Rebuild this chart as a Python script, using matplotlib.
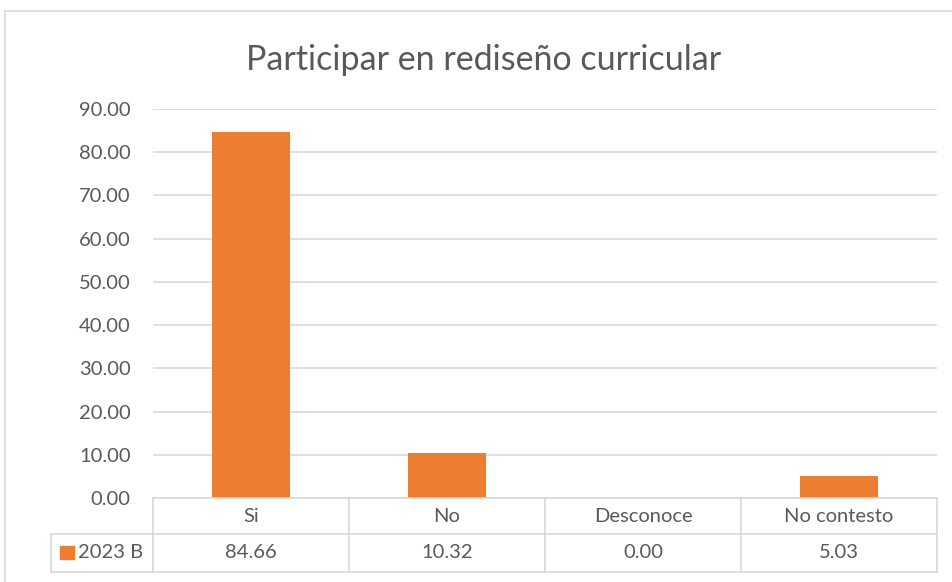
import matplotlib.pyplot as plt
import matplotlib.transforms as mtransforms
from matplotlib.lines import Line2D
from matplotlib.patches import Rectangle

categories = ["Si", "No", "Desconoce", "No contesto"]
values = [84.66, 10.32, 0.00, 5.03]
series_name = "2023 B"
y_ticks = [0, 10, 20, 30, 40, 50, 60, 70, 80, 90]

bar_color = "#ED7D31"
text_color = "#595959"
grid_color = "#D9D9D9"

plt.rcParams['font.family'] = ['Lato', 'DejaVu Sans']

W, H = 952, 582
fig = plt.figure(figsize=(W / 100, H / 100), dpi=100)


def fx(px):
    return px / W


def fy(py):
    # py measured from top of image
    return 1 - py / H


# Outer chart border (extends past the right and bottom edges)
fig.add_artist(Rectangle((fx(4.5), fy(700)), fx(1000), fy(10.5) - fy(700),
                         transform=fig.transFigure, fill=False,
                         edgecolor=grid_color, linewidth=1.2))

ax = fig.add_axes([fx(153), fy(498), fx(937) - fx(153), fy(109) - fy(498)])
ax.bar(range(len(categories)), values, width=0.4, color=bar_color, zorder=3)
ax.set_xlim(-0.5, len(categories) - 0.5)
ax.set_ylim(0, 90)
ax.set_yticks(y_ticks)
ax.set_yticklabels([f"{t:.2f}" for t in y_ticks])
ax.tick_params(axis='y', length=0, pad=16, labelsize=14.5, labelcolor=text_color)
ax.set_xticks([])
ax.yaxis.grid(True, color=grid_color, linewidth=1.2, zorder=0)
for s in ax.spines.values():
    s.set_visible(False)

fig.text(fx(484), fy(60), "Participar en rediseño curricular", ha='center',
         va='center', fontsize=24.5, color=text_color)

# Data table below the axis
tr = mtransforms.blended_transform_factory(ax.transData, fig.transFigure)
n = len(categories)
left_x = -0.5
right_x = n - 0.5
legend_left = ax.transData.inverted().transform((51, 0))[0]
y_top, y_mid, y_bot = fy(498), fy(534), fy(572)


def hline(x0, x1, y):
    fig.add_artist(Line2D([x0, x1], [y, y], transform=tr, color=grid_color,
                          linewidth=1.2, clip_on=False))


def vline(x, y0, y1):
    fig.add_artist(Line2D([x, x], [y0, y1], transform=tr, color=grid_color,
                          linewidth=1.2, clip_on=False))


hline(left_x, right_x, y_top)
hline(legend_left, right_x, y_mid)
hline(legend_left, right_x, y_bot)
vline(legend_left, y_mid, y_bot)
for i in range(n + 1):
    vline(i - 0.5, y_top, y_bot)

for i, (cat, val) in enumerate(zip(categories, values)):
    fig.text(i, (y_top + y_mid) / 2, cat, transform=tr, ha='center',
             va='center', fontsize=14.5, color=text_color)
    fig.text(i, (y_mid + y_bot) / 2, f"{val:.2f}", transform=tr, ha='center',
             va='center', fontsize=14.5, color=text_color)

# Legend key in the table
fig.add_artist(Rectangle((fx(60), fy(559)), fx(14), fy(546) - fy(559),
                         transform=fig.transFigure, color=bar_color))
fig.text(fx(78), (y_mid + y_bot) / 2, series_name, ha='left', va='center',
         fontsize=14.5, color=text_color)

fig.savefig("out.png", dpi=100)
